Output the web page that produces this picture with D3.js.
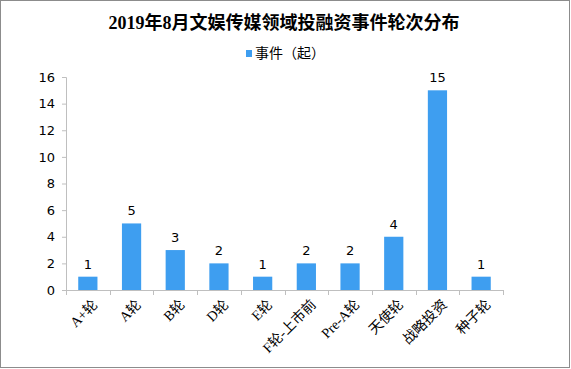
<!DOCTYPE html>
<html>
<head>
<meta charset="utf-8">
<script src="https://cdn.jsdelivr.net/npm/d3@7"></script>
<style>
  body { margin: 0; background: #fff; }
  svg { display: block; }
</style>
</head>
<body>
<div id="chart"></div>
<script>
var svgWidth = 571;
var svgHeight = 369;

var margin = { top: 77, right: 68, bottom: 79, left: 66 };
var width = svgWidth - margin.left - margin.right;
var height = svgHeight - margin.top - margin.bottom;

// data
var rounds = ["A+轮", "A轮", "B轮", "D轮", "E轮", "F轮-上市前", "Pre-A轮", "天使轮", "战略投资", "种子轮"];
var events = [1, 5, 3, 2, 1, 2, 2, 4, 15, 1];
var yTicks = [0, 2, 4, 6, 8, 10, 12, 14, 16];

var svg = d3.select("#chart")
  .append("svg")
  .attr("width", svgWidth)
  .attr("height", svgHeight);

// outer border
svg.append("rect")
  .attr("x", 0.5).attr("y", 0.5)
  .attr("width", svgWidth - 2).attr("height", svgHeight - 2)
  .attr("fill", "#fff")
  .attr("stroke", "#8c8c8c");

// title
svg.append("text")
  .attr("x", 284)
  .attr("y", 29)
  .attr("text-anchor", "middle")
  .attr("font-family", "'Liberation Serif', 'Noto Sans CJK SC', serif")
  .attr("font-weight", "bold")
  .attr("font-size", 18)
  .attr("fill", "#000")
  .text("2019年8月文娱传媒领域投融资事件轮次分布");

// legend
svg.append("rect")
  .attr("x", 246).attr("y", 50)
  .attr("width", 6).attr("height", 7)
  .attr("fill", "#3e9ef0");
svg.append("text")
  .attr("x", 255).attr("y", 58)
  .attr("font-family", "'Noto Sans CJK SC', sans-serif")
  .attr("font-size", 14)
  .attr("fill", "#000")
  .text("事件（起）");

var chartGroup = svg.append("g")
  .attr("transform", `translate(${margin.left}, ${margin.top})`);

var xScale = d3.scaleBand()
  .domain(rounds)
  .range([0, width])
  .paddingInner(0.56)
  .paddingOuter(0.28);

var yScale = d3.scaleLinear()
  .domain([0, 16])
  .range([height, 0]);

// y axis
var leftAxis = d3.axisLeft(yScale).tickValues(yTicks).tickSize(4).tickPadding(7);
var yAxis = chartGroup.append("g").call(leftAxis);
yAxis.select(".domain").attr("stroke", "#bfbfbf");
yAxis.selectAll(".tick line").attr("stroke", "#bfbfbf");
yAxis.selectAll("text")
  .attr("font-family", "'DejaVu Sans', sans-serif")
  .attr("font-size", 13)
  .attr("fill", "#000");

// bars
chartGroup.selectAll(".bar")
  .data(events)
  .enter()
  .append("rect")
  .attr("class", "bar")
  .attr("x", (d, i) => xScale(rounds[i]))
  .attr("y", d => yScale(d))
  .attr("width", xScale.bandwidth())
  .attr("height", d => height - yScale(d))
  .attr("fill", "#3e9ef0");

// value labels
chartGroup.selectAll(".val")
  .data(events)
  .enter()
  .append("text")
  .attr("class", "val")
  .attr("x", (d, i) => xScale(rounds[i]) + xScale.bandwidth() / 2)
  .attr("y", d => yScale(d) - 8)
  .attr("text-anchor", "middle")
  .attr("font-family", "'DejaVu Sans', sans-serif")
  .attr("font-size", 13)
  .attr("fill", "#000")
  .text(d => d);

// x axis: line with ticks at band edges
var step = xScale.step();
var xAxis = chartGroup.append("g").attr("transform", `translate(0, ${height})`);
xAxis.append("line")
  .attr("x1", 0).attr("x2", width)
  .attr("y1", 0.5).attr("y2", 0.5)
  .attr("stroke", "#bfbfbf");
xAxis.selectAll(".xtick")
  .data(d3.range(rounds.length + 1))
  .enter()
  .append("line")
  .attr("x1", i => Math.round(i * step) + 0.5)
  .attr("x2", i => Math.round(i * step) + 0.5)
  .attr("y1", 0).attr("y2", 5)
  .attr("stroke", "#bfbfbf");

xAxis.selectAll(".xlabel")
  .data(rounds)
  .enter()
  .append("text")
  .attr("class", "xlabel")
  .attr("transform", d => `translate(${xScale(d) + xScale.bandwidth() / 2 + 7}, 12) rotate(-45)`)
  .attr("text-anchor", "end")
  .attr("font-family", "'Liberation Serif', 'Noto Sans CJK SC', serif")
  .attr("font-size", 14)
  .attr("fill", "#000")
  .attr("dy", "0.35em")
  .text(d => d);
</script>
</body>
</html>
